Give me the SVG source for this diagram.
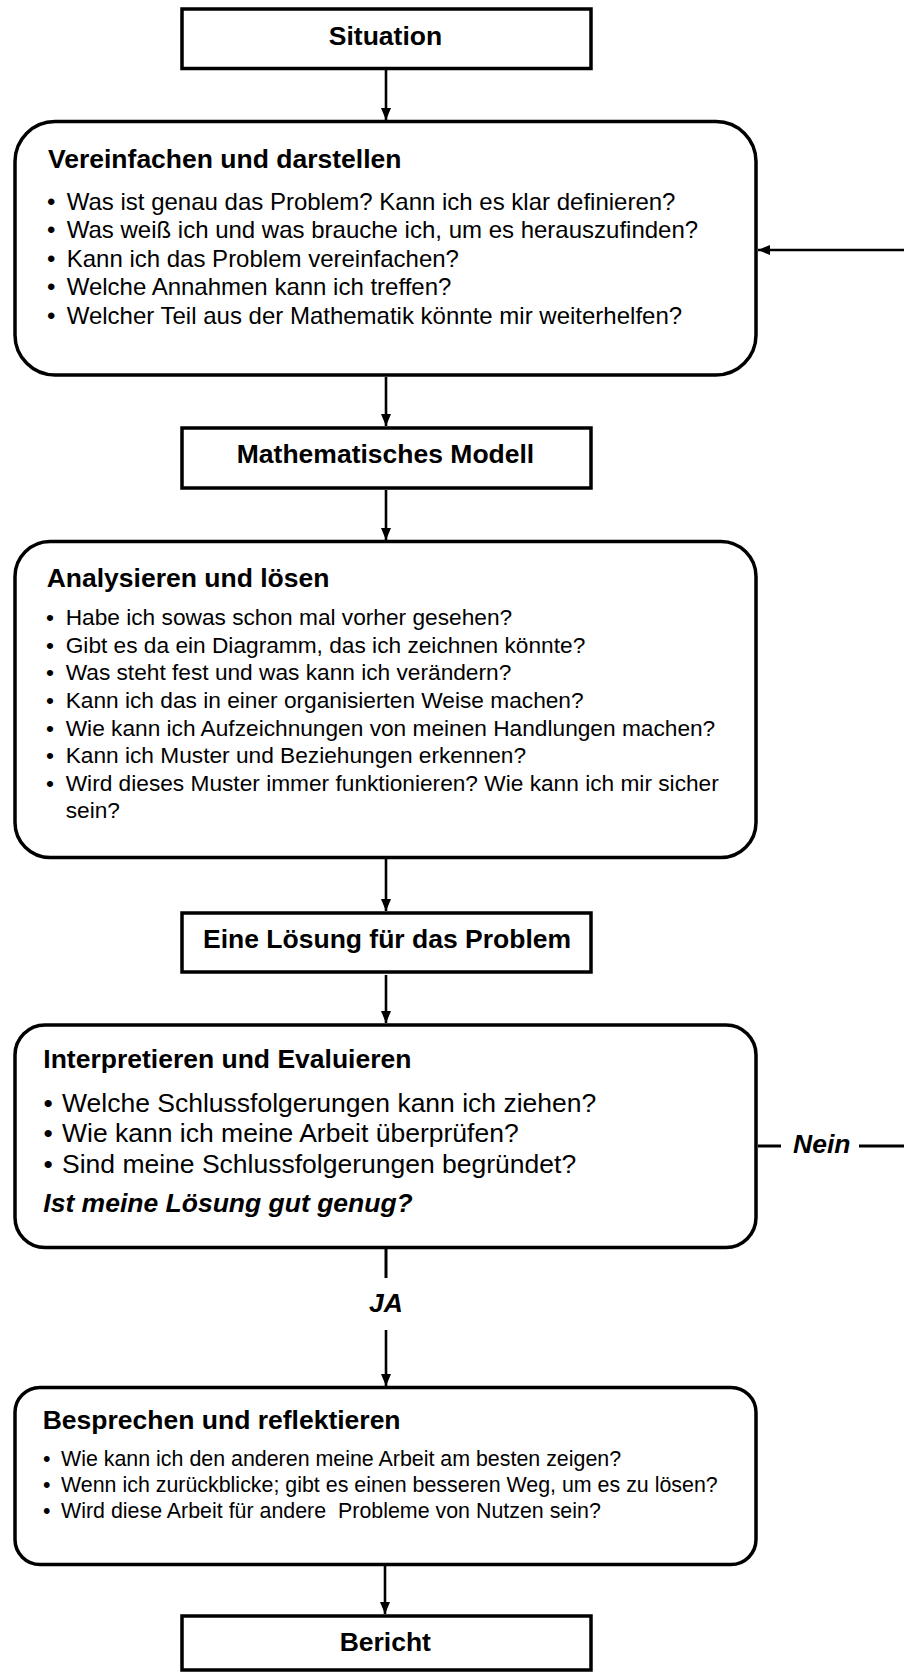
<svg xmlns="http://www.w3.org/2000/svg" width="904" height="1672" viewBox="0 0 904 1672">
<style>
text{font-family:"Liberation Sans",Arial,sans-serif;fill:#000}
.t{font-weight:bold;font-size:26.5px}
.bi{font-weight:bold;font-style:italic;font-size:26.5px}
.rb{fill:#fff;stroke:#000;stroke-width:3.5}
.rr{fill:#fff;stroke:#000;stroke-width:3.5}
.c{stroke:#000;stroke-width:2.6;fill:none}
.c3{stroke:#000;stroke-width:3;fill:none}
.b1{font-size:24px}
.b2{font-size:22.7px}
.b3{font-size:26.5px}
.b4{font-size:21.4px}
</style>
<defs>
<marker id="ah" viewBox="0 0 12 10" refX="12" refY="5" markerWidth="12" markerHeight="10" markerUnits="userSpaceOnUse" orient="auto">
<path d="M0,0 L12,5 L0,10 z" fill="#000"/>
</marker>
</defs>
<rect width="904" height="1672" fill="#fff"/>

<g id="connectors">
<line class="c" x1="386" y1="70" x2="386" y2="120" marker-end="url(#ah)"/>
<line class="c" x1="386" y1="377" x2="386" y2="426" marker-end="url(#ah)"/>
<line class="c" x1="386" y1="490" x2="386" y2="540" marker-end="url(#ah)"/>
<line class="c" x1="386" y1="859" x2="386" y2="911" marker-end="url(#ah)"/>
<line class="c" x1="386" y1="975" x2="386" y2="1023" marker-end="url(#ah)"/>
<line class="c3" x1="386" y1="1249" x2="386" y2="1278"/>
<line class="c" x1="386" y1="1330" x2="386" y2="1386" marker-end="url(#ah)"/>
<line class="c" x1="385" y1="1566" x2="385" y2="1614" marker-end="url(#ah)"/>
<line class="c" x1="904" y1="250" x2="758" y2="250" marker-end="url(#ah)"/>
<line class="c3" x1="758" y1="1146" x2="781" y2="1146"/>
<line class="c3" x1="859" y1="1146" x2="904" y2="1146"/>
<text class="bi" x="793" y="1153">Nein</text>
<text class="bi" x="386" y="1311.5" text-anchor="middle">JA</text>
</g>

<g id="situation">
<rect class="rb" x="182" y="9" width="409" height="59.5"/>
<text class="t" x="385.5" y="45" text-anchor="middle">Situation</text>
</g>

<g id="vereinfachen">
<rect class="rr" x="15" y="121.5" width="741" height="253.5" rx="40" ry="40"/>
<text class="t" x="48" y="168.3">Vereinfachen und darstellen</text>
<text class="b1" x="47" y="209.5">•<tspan x="66.7">Was ist genau das Problem? Kann ich es klar definieren?</tspan></text>
<text class="b1" x="47" y="238">•<tspan x="66.7">Was weiß ich und was brauche ich, um es herauszufinden?</tspan></text>
<text class="b1" x="47" y="266.5">•<tspan x="66.7">Kann ich das Problem vereinfachen?</tspan></text>
<text class="b1" x="47" y="295">•<tspan x="66.7">Welche Annahmen kann ich treffen?</tspan></text>
<text class="b1" x="47" y="323.5">•<tspan x="66.7">Welcher Teil aus der Mathematik könnte mir weiterhelfen?</tspan></text>
</g>

<g id="modell">
<rect class="rb" x="182" y="428" width="409" height="60"/>
<text class="t" x="385.5" y="463.3" text-anchor="middle">Mathematisches Modell</text>
</g>

<g id="analysieren">
<rect class="rr" x="15" y="541.5" width="741" height="316" rx="35" ry="35"/>
<text class="t" x="46.7" y="586.7">Analysieren und lösen</text>
<text class="b2" x="46" y="625">•<tspan x="65.7">Habe ich sowas schon mal vorher gesehen?</tspan></text>
<text class="b2" x="46" y="652.7">•<tspan x="65.7">Gibt es da ein Diagramm, das ich zeichnen könnte?</tspan></text>
<text class="b2" x="46" y="680.3">•<tspan x="65.7">Was steht fest und was kann ich verändern?</tspan></text>
<text class="b2" x="46" y="708">•<tspan x="65.7">Kann ich das in einer organisierten Weise machen?</tspan></text>
<text class="b2" x="46" y="735.7">•<tspan x="65.7">Wie kann ich Aufzeichnungen von meinen Handlungen machen?</tspan></text>
<text class="b2" x="46" y="763.3">•<tspan x="65.7">Kann ich Muster und Beziehungen erkennen?</tspan></text>
<text class="b2" x="46" y="791">•<tspan x="65.7">Wird dieses Muster immer funktionieren? Wie kann ich mir sicher</tspan></text>
<text class="b2" x="65.7" y="818">sein?</text>
</g>

<g id="loesung">
<rect class="rb" x="182" y="913" width="409" height="59"/>
<text class="t" x="203" y="948.3">Eine Lösung für das Problem</text>
</g>

<g id="interpretieren">
<rect class="rr" x="15" y="1025" width="741" height="222.5" rx="30" ry="30"/>
<text class="t" x="43.3" y="1067.5">Interpretieren und Evaluieren</text>
<text class="b3" x="43.5" y="1111.5">•<tspan x="62">Welche Schlussfolgerungen kann ich ziehen?</tspan></text>
<text class="b3" x="43.5" y="1142">•<tspan x="62">Wie kann ich meine Arbeit überprüfen?</tspan></text>
<text class="b3" x="43.5" y="1172.5">•<tspan x="62">Sind meine Schlussfolgerungen begründet?</tspan></text>
<text class="bi" x="43.3" y="1212">Ist meine Lösung gut genug?</text>
</g>

<g id="besprechen">
<rect class="rr" x="15" y="1387.5" width="741" height="177" rx="25" ry="25"/>
<text class="t" x="42.7" y="1428.7">Besprechen und reflektieren</text>
<text class="b4" x="43" y="1466.3">•<tspan x="61">Wie kann ich den anderen meine Arbeit am besten zeigen?</tspan></text>
<text class="b4" x="43" y="1491.8">•<tspan x="61">Wenn ich zurückblicke; gibt es einen besseren Weg, um es zu lösen?</tspan></text>
<text class="b4" x="43" y="1517.5" xml:space="preserve">•<tspan x="61">Wird diese Arbeit für andere  Probleme von Nutzen sein?</tspan></text>
</g>

<g id="bericht">
<rect class="rb" x="182" y="1616" width="409" height="54"/>
<text class="t" x="385.3" y="1651.3" text-anchor="middle">Bericht</text>
</g>
</svg>
